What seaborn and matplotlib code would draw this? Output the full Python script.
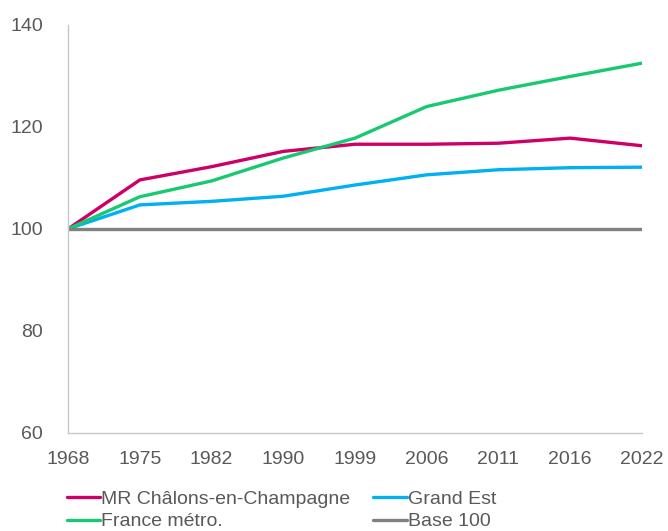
import numpy as np
import pandas as pd
import matplotlib
matplotlib.use('Agg')
import matplotlib.pyplot as plt
import seaborn as sns

# Data (base 100 in 1968)
years = ['1968', '1975', '1982', '1990', '1999', '2006', '2011', '2016', '2022']
mr_chalons = [100, 109.6, 112.2, 115.2, 116.6, 116.6, 116.8, 117.8, 116.3]
grand_est = [100, 104.7, 105.4, 106.4, 108.6, 110.6, 111.6, 112.0, 112.1]
france_metro = [100, 106.3, 109.4, 113.9, 117.8, 124.0, 127.2, 129.9, 132.5]
base_100 = [100] * len(years)

names = ['MR Châlons-en-Champagne', 'Grand Est', 'France métro.', 'Base 100']
colors = ['#CC0066', '#00B0F0', '#19C972', '#808080']

rows = []
for name, vals in zip(names, [mr_chalons, grand_est, france_metro, base_100]):
    for i, v in enumerate(vals):
        rows.append({'pos': i, 'value': v, 'serie': name})
df = pd.DataFrame(rows)

sns.set_style('white')
plt.rcParams['font.family'] = ['Liberation Sans', 'DejaVu Sans']

fig = plt.figure(figsize=(6.68, 5.31), dpi=100)
ax = fig.add_axes([0.102, 0.185, 0.859, 0.768])

sns.lineplot(data=df, x='pos', y='value', hue='serie', hue_order=names,
             palette=colors, linewidth=2.4, ax=ax, legend=False)

ax.set_xlim(0, len(years) - 1)
ax.set_ylim(60, 140)
ax.set_xticks(range(len(years)))
ax.set_xticklabels(years)
ax.set_yticks([60, 80, 100, 120, 140])
ax.set_xlabel('')
ax.set_ylabel('')
ax.tick_params(axis='both', length=0, labelsize=14, labelcolor='#595959')
ax.tick_params(axis='x', pad=13)
ax.tick_params(axis='y', pad=18)

for s in ['top', 'right']:
    ax.spines[s].set_visible(False)
for s in ['left', 'bottom']:
    ax.spines[s].set_color('#C8C8C8')
    ax.spines[s].set_linewidth(1)

# legend: row 1 MR / Grand Est, row 2 France / Base 100
lines = ax.get_lines()
order = [0, 2, 1, 3]
handles = [lines[i] for i in order]
labels = [names[i] for i in order]
fig.legend(handles, labels, ncol=2, loc='upper left',
           bbox_to_anchor=(67 / 668, 1 - 490 / 531), frameon=False,
           borderaxespad=0, borderpad=0,
           fontsize=14, handlelength=1.7, handletextpad=0.05,
           columnspacing=1.2, labelspacing=0.27, labelcolor='#595959')

fig.savefig('out.png', dpi=100)
